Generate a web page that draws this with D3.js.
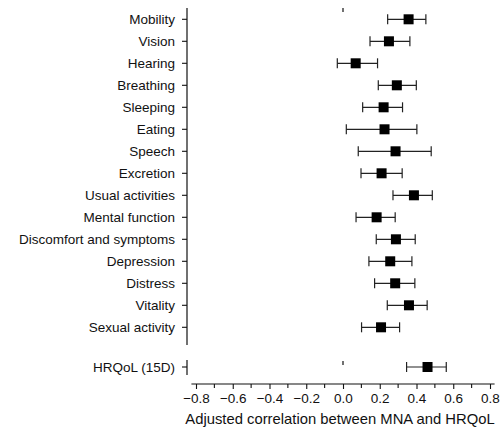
<!DOCTYPE html>
<html>
<head>
<meta charset="utf-8">
<script src="https://d3js.org/d3.v7.min.js"></script>
<style>
  body { margin: 0; background: #fff; }
  svg { display: block; }
  text { font-family: "Liberation Sans", Arial, sans-serif; fill: #111; }
  .bar { stroke: #222; stroke-width: 1.2px; fill: none; }
</style>
</head>
<body>
<div id="chart"></div>
<script>

// domains of the 15D instrument
const domains = ["Mobility", "Vision", "Hearing", "Breathing", "Sleeping", "Eating", "Speech",
  "Excretion", "Usual activities", "Mental function", "Discomfort and symptoms",
  "Depression", "Distress", "Vitality", "Sexual activity"];
const estimate = [0.357, 0.250, 0.069, 0.293, 0.221, 0.226, 0.286, 0.210, 0.386, 0.183, 0.288, 0.257, 0.284, 0.359, 0.207];
const lower    = [0.243, 0.147, -0.031, 0.192, 0.107, 0.018, 0.083, 0.098, 0.272, 0.071, 0.181, 0.141, 0.172, 0.241, 0.101];
const upper    = [0.451, 0.364, 0.188, 0.399, 0.324, 0.402, 0.480, 0.322, 0.486, 0.284, 0.393, 0.375, 0.391, 0.458, 0.308];

// total score
const totalLabel = ["HRQoL (15D)"];
const totalEst = [0.460];
const totalLow = [0.346];
const totalHigh = [0.562];

const xTicks = [-0.8, -0.6, -0.4, -0.2, 0.0, 0.2, 0.4, 0.6, 0.8];

const W = 501, H = 439;
const svg = d3.select("#chart").append("svg").attr("width", W).attr("height", H);

const x = d3.scaleLinear().domain([-0.8, 0.8]).range([196, 490]);
const y = d3.scaleLinear().domain([0, domains.length - 1]).range([19.3, 327.3]);
const yTot = 367;
const axisX = 187;

// left axis, top panel
svg.append("line").attr("x1", axisX).attr("x2", axisX).attr("y1", 8).attr("y2", 345)
  .attr("stroke", "#111").attr("stroke-width", 1.2);
// left axis, bottom panel
svg.append("line").attr("x1", axisX).attr("x2", axisX).attr("y1", 360).attr("y2", 375)
  .attr("stroke", "#111").attr("stroke-width", 1.2);

const allRows = domains.map((d, i) => ({label: d, est: estimate[i], lo: lower[i], hi: upper[i], y: y(i)}))
  .concat(totalLabel.map((d, i) => ({label: d, est: totalEst[i], lo: totalLow[i], hi: totalHigh[i], y: yTot})));

const rowG = svg.selectAll("g.row").data(allRows).join("g").attr("class", "row");

rowG.append("line").attr("x1", axisX - 5).attr("x2", axisX).attr("y1", d => d.y).attr("y2", d => d.y)
  .attr("stroke", "#111").attr("stroke-width", 1.1);
rowG.append("text").attr("x", axisX - 12).attr("y", d => d.y).attr("dy", "0.36em")
  .attr("text-anchor", "end").style("font-size", "13.5px").text(d => d.label);

// CI bars
rowG.append("line").attr("class", "bar").attr("x1", d => x(d.lo)).attr("x2", d => x(d.hi))
  .attr("y1", d => d.y).attr("y2", d => d.y);
rowG.append("line").attr("class", "bar").attr("x1", d => x(d.lo)).attr("x2", d => x(d.lo))
  .attr("y1", d => d.y - 5).attr("y2", d => d.y + 5);
rowG.append("line").attr("class", "bar").attr("x1", d => x(d.hi)).attr("x2", d => x(d.hi))
  .attr("y1", d => d.y - 5).attr("y2", d => d.y + 5);
rowG.append("rect").attr("x", d => x(d.est) - 5).attr("y", d => d.y - 5)
  .attr("width", 10).attr("height", 10).attr("fill", "#000");

// small marks at zero
[[8, 12], [361, 365]].forEach(s => {
  svg.append("line").attr("x1", x(0)).attr("x2", x(0)).attr("y1", s[0]).attr("y2", s[1])
    .attr("stroke", "#111").attr("stroke-width", 1.2);
});

// x axis
const axisY = 384;
const xAxis = d3.axisBottom(x).tickValues(xTicks).tickSize(5).tickFormat(d3.format(".1f"));
const gx = svg.append("g").attr("transform", `translate(0,${axisY})`).call(xAxis);
gx.select(".domain").remove();
gx.append("line").attr("x1", x(-0.825)).attr("x2", x(0.825)).attr("stroke", "#111").attr("stroke-width", 1.2);
gx.selectAll(".tick line").attr("stroke", "#111").attr("stroke-width", 1.1);
gx.selectAll(".tick text").style("font-size", "13.5px").attr("y", 9).attr("fill", "#111")
  .text(d => d3.format(".1f")(d).replace("-", "\u2212"));
// minor ticks
gx.selectAll("line.minor").data(d3.range(-7, 8, 2).map(v => v / 10)).join("line").attr("class", "minor")
  .attr("x1", d => x(d)).attr("x2", d => x(d)).attr("y1", 0).attr("y2", 4)
  .attr("stroke", "#111").attr("stroke-width", 1.1);

svg.append("text").attr("x", 340).attr("y", 424).attr("text-anchor", "middle")
  .style("font-size", "14.8px").text("Adjusted correlation between MNA and HRQoL");

</script>
</body>
</html>
